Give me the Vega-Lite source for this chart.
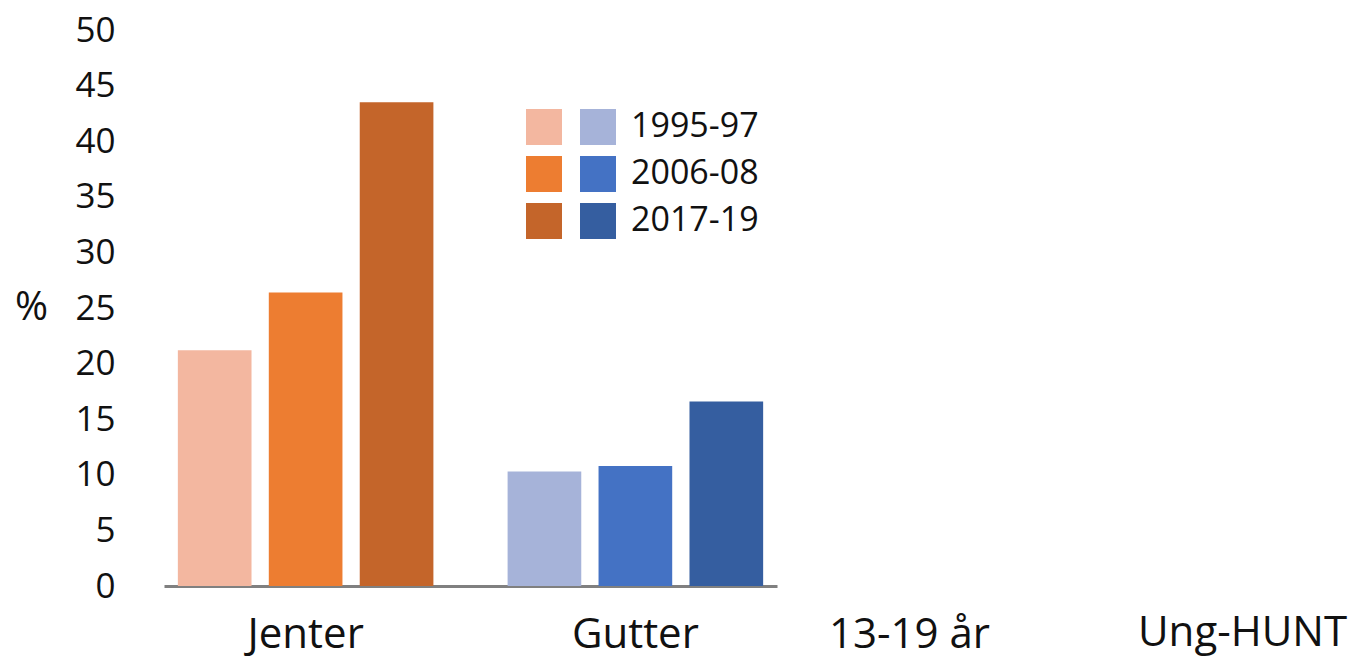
{
  "$schema": "https://vega.github.io/schema/vega-lite/v6.json",
  "autosize": "none",
  "padding": {"left": 164, "top": 30, "right": 583, "bottom": 75},
  "width": 613,
  "height": 556,
  "background": "white",
  "title": {
    "text": "Ung-HUNT",
    "orient": "bottom",
    "anchor": "start",
    "frame": "group",
    "align": "left",
    "baseline": "alphabetic",
    "dx": 974,
    "dy": -9,
    "offset": 0,
    "font": "Open Sans",
    "fontSize": 42,
    "fontWeight": "normal",
    "color": "#111111"
  },
  "data": {
    "values": [
      {"kjonn": "Jenter", "periode": "1995-97", "verdi": 21.2},
      {"kjonn": "Jenter", "periode": "2006-08", "verdi": 26.4},
      {"kjonn": "Jenter", "periode": "2017-19", "verdi": 43.5},
      {"kjonn": "Gutter", "periode": "1995-97", "verdi": 10.3},
      {"kjonn": "Gutter", "periode": "2006-08", "verdi": 10.8},
      {"kjonn": "Gutter", "periode": "2017-19", "verdi": 16.6}
    ]
  },
  "encoding": {
    "x": {
      "field": "kjonn",
      "type": "nominal",
      "scale": {"domain": ["Jenter", "Gutter"], "paddingInner": 0.225, "paddingOuter": 0.042},
      "axis": {
        "title": "13-19 år",
        "titleX": 745,
        "titleY": 61,
        "titleAlign": "center",
        "titleBaseline": "alphabetic",
        "titleFont": "Open Sans",
        "titleFontSize": 42,
        "titleFontWeight": "normal",
        "titleColor": "#111111",
        "labelFont": "Open Sans",
        "labelFontSize": 42,
        "labelColor": "#111111",
        "labelAngle": 0,
        "labelBaseline": "alphabetic",
        "labelPadding": 61,
        "ticks": false,
        "tickSize": 0,
        "domainColor": "#808080",
        "domainWidth": 3,
        "grid": false
      }
    },
    "xOffset": {
      "field": "periode",
      "type": "nominal",
      "scale": {"domain": ["1995-97", "2006-08", "2017-19"], "paddingInner": 0.19, "paddingOuter": 0}
    },
    "y": {
      "field": "verdi",
      "type": "quantitative",
      "scale": {"domain": [0, 50], "nice": false},
      "axis": {
        "title": "%",
        "titleAngle": 0,
        "titleX": -133,
        "titleY": 277,
        "titleAlign": "center",
        "titleBaseline": "middle",
        "titleFont": "Open Sans",
        "titleFontSize": 40,
        "titleFontWeight": "normal",
        "titleColor": "#111111",
        "values": [0, 5, 10, 15, 20, 25, 30, 35, 40, 45, 50],
        "labelFont": "Open Sans",
        "labelFontSize": 35,
        "labelColor": "#111111",
        "labelPadding": 49,
        "ticks": false,
        "tickSize": 0,
        "domain": false,
        "grid": false
      }
    }
  },
  "layer": [
    {
      "transform": [{"filter": "datum.kjonn === 'Jenter'"}],
      "mark": {"type": "bar", "opacity": 1},
      "encoding": {
        "color": {
          "field": "periode",
          "type": "nominal",
          "scale": {"domain": ["1995-97", "2006-08", "2017-19"], "range": ["#F3B7A0", "#ED7D31", "#C4652A"]},
          "legend": {
            "title": null,
            "orient": "none",
            "legendX": 362,
            "legendY": 79,
            "padding": 0,
            "symbolType": "square",
            "symbolSize": 1296,
            "symbolStrokeWidth": 0,
            "symbolOpacity": 1,
            "labelFont": "Open Sans",
            "labelFontSize": 34,
            "labelExpr": "''",
            "labelOffset": 0,
            "rowPadding": 11
          }
        }
      }
    },
    {
      "transform": [{"filter": "datum.kjonn === 'Gutter'"}],
      "mark": {"type": "bar", "opacity": 1},
      "encoding": {
        "color": {
          "field": "periode",
          "type": "nominal",
          "scale": {"domain": ["1995-97", "2006-08", "2017-19"], "range": ["#A6B3D9", "#4472C4", "#355EA0"]},
          "legend": {
            "title": null,
            "orient": "none",
            "legendX": 416,
            "legendY": 79,
            "padding": 0,
            "symbolType": "square",
            "symbolSize": 1296,
            "symbolStrokeWidth": 0,
            "symbolOpacity": 1,
            "labelFont": "Open Sans",
            "labelFontSize": 34,
            "labelColor": "#111111",
            "labelOffset": 15,
            "rowPadding": 11
          }
        }
      }
    }
  ],
  "resolve": {"scale": {"color": "independent"}, "legend": {"color": "independent"}},
  "config": {"view": {"stroke": null}}
}
